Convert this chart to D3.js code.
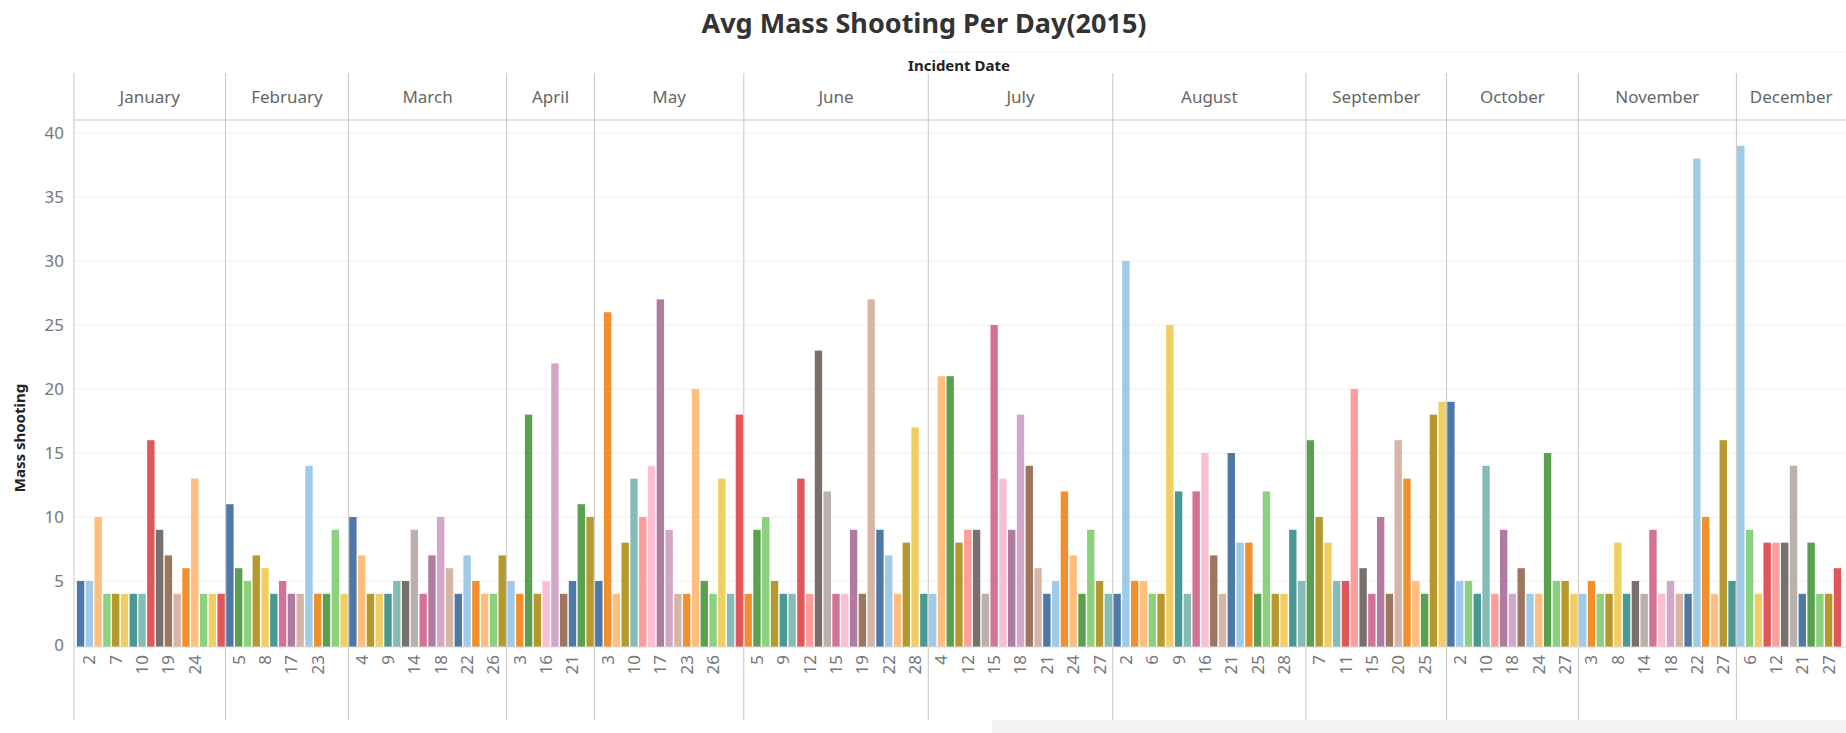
<!DOCTYPE html>
<html>
<head>
<meta charset="utf-8">
<script src="https://cdn.jsdelivr.net/npm/d3@7"></script>
<style>
  body { margin: 0; background: #fff; }
  text { font-family: "Noto Sans", "Open Sans", sans-serif; }
</style>
</head>
<body>
<svg id="chart"></svg>
<script>
var months = ['January','February','March','April','May','June','July','August','September','October','November','December'];

// day of month for each bar, per month
var days = [
  [1,2,4,6,7,8,9,10,11,13,19,20,23,24,26,28,31],
  [1,5,6,7,8,9,15,17,20,22,23,25,26,28],
  [1,4,7,8,9,10,13,14,15,17,18,20,21,22,23,24,26,27],
  [2,3,5,7,16,18,19,21,25,27],
  [1,3,4,7,10,12,16,17,18,20,23,24,25,26,28,30,31],
  [3,5,6,7,9,10,11,12,13,14,15,16,17,19,20,21,22,24,27,28,29],
  [2,4,5,7,12,13,14,15,16,17,18,19,20,21,22,23,24,25,26,27,30],
  [1,2,3,4,6,7,8,9,10,15,16,19,20,21,22,23,25,26,27,28,29,30],
  [5,7,8,10,11,12,13,15,17,19,20,23,24,25,27,28],
  [1,2,6,9,10,12,17,18,19,22,24,25,26,27,28],
  [2,3,6,7,8,9,13,14,15,16,18,20,21,22,23,24,27,29],
  [2,6,8,11,12,13,14,21,25,26,27,31]
];

// mass shootings per bar, per month
var shootings = [
  [5,5,10,4,4,4,4,4,16,9,7,4,6,13,4,4,4],
  [11,6,5,7,6,4,5,4,4,14,4,4,9,4],
  [10,7,4,4,4,5,5,9,4,7,10,6,4,7,5,4,4,7],
  [5,4,18,4,5,22,4,5,11,10],
  [5,26,4,8,13,10,14,27,9,4,4,20,5,4,13,4,18],
  [4,9,10,5,4,4,13,4,23,12,4,4,9,4,27,9,7,4,8,17,4],
  [4,21,21,8,9,9,4,25,13,9,18,14,6,4,5,12,7,4,9,5,4],
  [4,30,5,5,4,4,25,12,4,12,15,7,4,15,8,8,4,12,4,4,9,5],
  [16,10,8,5,5,20,6,4,10,4,16,13,5,4,18,19],
  [19,5,5,4,14,4,9,4,6,4,4,15,5,5,4],
  [4,5,4,4,8,4,5,4,9,4,5,4,4,38,10,4,16,5],
  [39,9,4,8,8,8,14,4,8,4,4,6]
];

// day labels that fit under each month
var tickDays = [
  [2,7,10,19,24],[5,8,17,23],[4,9,14,18,22,26],[3,16,21],[3,10,17,23,26],
  [5,9,12,15,19,22,28],[4,12,15,18,21,24,27],[2,6,9,16,21,25,28],
  [7,11,15,20,25],[2,10,18,24,27],[3,8,14,18,22,27],[6,12,21,27]
];

var yTicks = [0,5,10,15,20,25,30,35,40];

var palette = ['#4e79a7','#a0cbe8','#f28e2b','#ffbe7d','#59a14f','#8cd17d','#b6992d','#f1ce63','#499894','#86bcb6',
  '#e15759','#ff9d9a','#79706e','#bab0ac','#d37295','#fabfd2','#b07aa1','#d4a6c8','#9d7660','#d7b5a6'];

var W = 1846, H = 733;
var left = 74, right = 1846, plotRight = 1842;
var headTop = 73, headBottom = 120, baseY = 647, bottomY = 720;

var bars = [];
days.forEach(function(ds, m) {
  ds.forEach(function(d, i) {
    bars.push({ key: m + '-' + d, month: m, day: d, value: shootings[m][i] });
  });
});

var svg = d3.select('#chart').attr('width', W).attr('height', H);

var x = d3.scaleBand().domain(bars.map(function(d) { return d.key; }))
  .range([left + 2, plotRight]).paddingInner(0.16).paddingOuter(0.1);
var y = d3.scaleLinear().domain([0, 40]).range([baseY - 2, 133]);

// gray box bottom right
svg.append('rect').attr('x', 992).attr('y', bottomY).attr('width', W - 992).attr('height', H - bottomY).attr('fill', '#f2f2f2');

// title
svg.append('text').attr('x', 924).attr('y', 33).attr('text-anchor', 'middle')
  .attr('font-size', 27).attr('font-weight', 'bold').attr('fill', '#333').text('Avg Mass Shooting Per Day(2015)');
svg.append('line').attr('x1', 930).attr('x2', W).attr('y1', 52).attr('y2', 52).attr('stroke', '#eee');
svg.append('text').attr('x', 959).attr('y', 71).attr('text-anchor', 'middle')
  .attr('font-size', 15).attr('font-weight', 'bold').attr('fill', '#222').text('Incident Date');

// gridlines
svg.append('g').selectAll('line').data(yTicks.slice(1)).enter().append('line')
  .attr('x1', left).attr('x2', right).attr('y1', function(d) { return y(d); }).attr('y2', function(d) { return y(d); })
  .attr('stroke', '#efefef');

// y axis
var yAxis = svg.append('g').attr('transform', 'translate(' + left + ',0)')
  .call(d3.axisLeft(y).tickValues(yTicks).tickSize(0).tickPadding(10));
yAxis.select('.domain').remove();
yAxis.selectAll('text').attr('font-size', 17).attr('fill', '#777').style('font-family', '"Noto Sans", sans-serif');
svg.append('text').attr('transform', 'translate(25,' + 438 + ') rotate(-90)').attr('text-anchor', 'middle')
  .attr('font-size', 15).attr('font-weight', 'bold').attr('fill', '#222').text('Mass shooting');

// bars
svg.append('g').selectAll('rect').data(bars).enter().append('rect')
  .attr('x', function(d) { return x(d.key); })
  .attr('width', x.bandwidth())
  .attr('y', function(d) { return y(d.value); })
  .attr('height', function(d) { return baseY - y(d.value); })
  .attr('fill', function(d) { return palette[(d.day - 1) % 20]; });

// x axis day labels
var labelled = bars.filter(function(d) { return tickDays[d.month].indexOf(d.day) >= 0; });
svg.append('g').selectAll('text').data(labelled).enter().append('text')
  .attr('transform', function(d) { return 'translate(' + (x(d.key) + x.bandwidth() / 2 + 6) + ',' + (baseY + 8) + ') rotate(-90)'; })
  .attr('text-anchor', 'end').attr('font-size', 17).attr('fill', '#777').text(function(d) { return d.day; });

// month boundaries & header
var step = x.step();
var bounds = months.map(function(m, i) {
  var first = bars.find(function(b) { return b.month === i; });
  var last = bars.filter(function(b) { return b.month === i; }).pop();
  return { name: m, x0: x(first.key) - (step - x.bandwidth()) / 2, x1: x(last.key) + x.bandwidth() + (step - x.bandwidth()) / 2 };
});
bounds[0].x0 = left;
bounds[11].x1 = right;

svg.append('g').selectAll('line').data(bounds.slice(1)).enter().append('line')
  .attr('x1', function(d) { return d.x0; }).attr('x2', function(d) { return d.x0; })
  .attr('y1', headTop).attr('y2', bottomY).attr('stroke', '#c8c8c8');
svg.append('line').attr('x1', left).attr('x2', left).attr('y1', headTop).attr('y2', bottomY).attr('stroke', '#c8c8c8');
svg.append('line').attr('x1', left).attr('x2', right).attr('y1', headBottom).attr('y2', headBottom).attr('stroke', '#c8c8c8');
svg.append('line').attr('x1', left).attr('x2', right).attr('y1', baseY).attr('y2', baseY).attr('stroke', '#ddd');

svg.append('g').selectAll('text').data(bounds).enter().append('text')
  .attr('x', function(d) { return (d.x0 + d.x1) / 2; }).attr('y', 103)
  .attr('text-anchor', 'middle').attr('font-size', 17).attr('fill', '#666').text(function(d) { return d.name; });
</script>
</body>
</html>
